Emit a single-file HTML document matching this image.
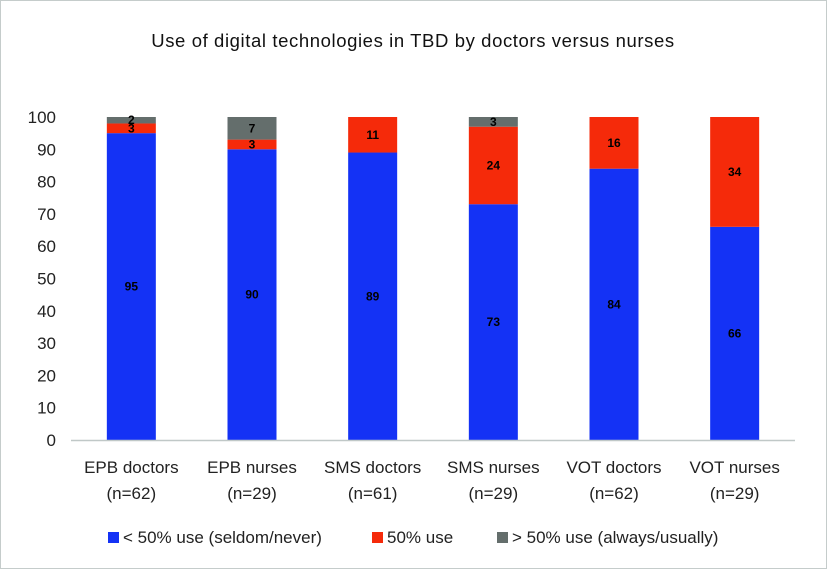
<!DOCTYPE html>
<html><head><meta charset="utf-8"><style>
html,body{margin:0;padding:0;background:#fff}
#wrap{position:relative;width:825px;height:567px;border:1px solid #c5cccb;background:#fff;font-family:"Liberation Sans",Arial,sans-serif}
svg text{font-family:"Liberation Sans",Arial,sans-serif}
</style></head><body>
<div id="wrap">
<svg id="chart" width="825" height="567"></svg>
</div>
<script>
const categories=["EPB doctors|(n=62)","EPB nurses|(n=29)","SMS doctors|(n=61)","SMS nurses|(n=29)","VOT doctors|(n=62)","VOT nurses|(n=29)"];
const lowUse=[95,90,89,73,84,66];
const midUse=[3,3,11,24,16,34];
const highUse=[2,7,0,3,0,0];
const yTicks=[0,10,20,30,40,50,60,70,80,90,100];
const seriesNames=["< 50% use (seldom/never)","50% use","> 50% use (always/usually)"];
const colors=["#1432f5","#f52a0a","#646e6c"];
const svg=document.getElementById('chart');
const NS="http://www.w3.org/2000/svg";
const X0=70,X1=794,Y0=439,Y1=116;
const band=(X1-X0)/categories.length;
function y(v){return Y0-(v/100)*(Y0-Y1);}
function xc(i){return X0+band*(i+0.5);}
function mk(t,a,txt){const e=document.createElementNS(NS,t);for(const k in a)e.setAttribute(k,a[k]);if(txt!==undefined)e.textContent=txt;svg.appendChild(e);return e;}
let t=mk('text',{x:412,y:46,'text-anchor':'middle','font-size':18.5,'letter-spacing':'0.6',fill:'#111'},'Use of digital technologies in TBD by doctors versus nurses');


yTicks.forEach(v=>{const e=mk('text',{x:55,y:y(v)+6,'text-anchor':'end','font-size':17,fill:'#222'},v);

});
const series=[lowUse,midUse,highUse];
categories.forEach((c,i)=>{let base=0;const bw=49;
series.forEach((s,k)=>{const v=s[i];if(!v)return;
const r=mk('rect',{x:xc(i)-bw/2,y:y(base+v),width:bw,height:y(base)-y(base+v),fill:colors[k]});


const lt=mk('text',{x:xc(i),y:(y(base)+y(base+v))/2+4,'text-anchor':'middle','font-size':12,'font-weight':'bold',fill:'#000'},v);


base+=v;});
const p=c.split('|');
const l1=mk('text',{x:xc(i),y:472,'text-anchor':'middle','font-size':17,fill:'#222'},p[0]);


const l2=mk('text',{x:xc(i),y:498,'text-anchor':'middle','font-size':17,fill:'#222'},p[1]);


});
const ax=mk('line',{x1:X0,x2:X1,y1:Y0+0.5,y2:Y0+0.5,stroke:'#c0c8c7','stroke-width':1.5});


const lx=[107,371,496];
seriesNames.forEach((n,k)=>{const r=mk('rect',{x:lx[k],y:531,width:11,height:11,fill:colors[k]});


const e=mk('text',{x:lx[k]+15,y:542,'font-size':17,fill:'#222'},n);

});
</script>
</body></html>
